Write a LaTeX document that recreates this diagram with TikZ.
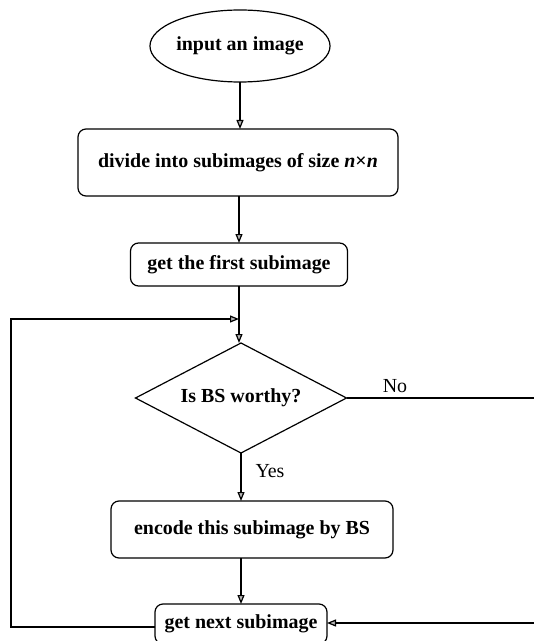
\documentclass[tikz,border=0pt]{standalone}
\usepackage{fontspec}
\setmainfont{Liberation Serif}
\usetikzlibrary{shapes.geometric,arrows.meta}
\begin{document}
\begin{tikzpicture}[x=1bp,y=-1bp,
  every node/.style={inner sep=0pt,outer sep=0pt},
  ln/.style={line width=1.2bp,draw=black},
  boxtxt/.style={font=\fontsize{20}{24}\selectfont\bfseries},
  lbl/.style={font=\fontsize{20}{24}\selectfont},
  procbox/.style={ln,rectangle,rounded corners=8bp,boxtxt},
  arr/.style={ln,-{Triangle[length=9bp,width=7bp,fill=gray!55]}}
]
\useasboundingbox (0,0) rectangle (534,641);
\clip (0,0) rectangle (534,641);
\node[ln,ellipse,boxtxt,minimum width=175bp,minimum height=72bp] (input) at (240,46) {input an image};
\node[procbox,minimum width=320bp,minimum height=67bp] (divide) at (238,162.5) {divide into subimages of size {\itshape n}×{\itshape n}};
\node[procbox,minimum width=217bp,minimum height=43bp] (first) at (239,264.5) {get the first subimage};
\node[ln,diamond,aspect=1.92,boxtxt,minimum width=211bp,minimum height=110bp] (dec) at (241,398) {Is BS worthy?};
\node[procbox,minimum width=282bp,minimum height=57bp] (encode) at (252,529.5) {encode this subimage by BS};
\node[procbox,minimum width=172bp,minimum height=40bp] (next) at (241,624) {get next subimage};
\node[lbl] (no) at (395,386) {No};
\node[lbl] (yes) at (270,471) {Yes};
\coordinate (L1) at (11,627);
\coordinate (L2) at (11,319);
\coordinate (R1) at (545,398);
\coordinate (R2) at (545,623);
\draw[arr] (input.south) -- (input.south |- divide.north);
\draw[arr] (divide.south -| first.north) -- (first.north);
\draw[arr] (first.south) -- (first.south |- dec.north);
\draw[arr] (dec.south) -- (dec.south |- encode.north);
\draw[arr] (encode.south -| next.north) -- (next.north);
\draw[arr] (next.west |- L1) -- (L1) -- (L2) -- (first.south |- L2);
\draw[arr] (dec.east) -- (R1) -- (R2) -- (next.east |- R2);
\end{tikzpicture}
\end{document}
